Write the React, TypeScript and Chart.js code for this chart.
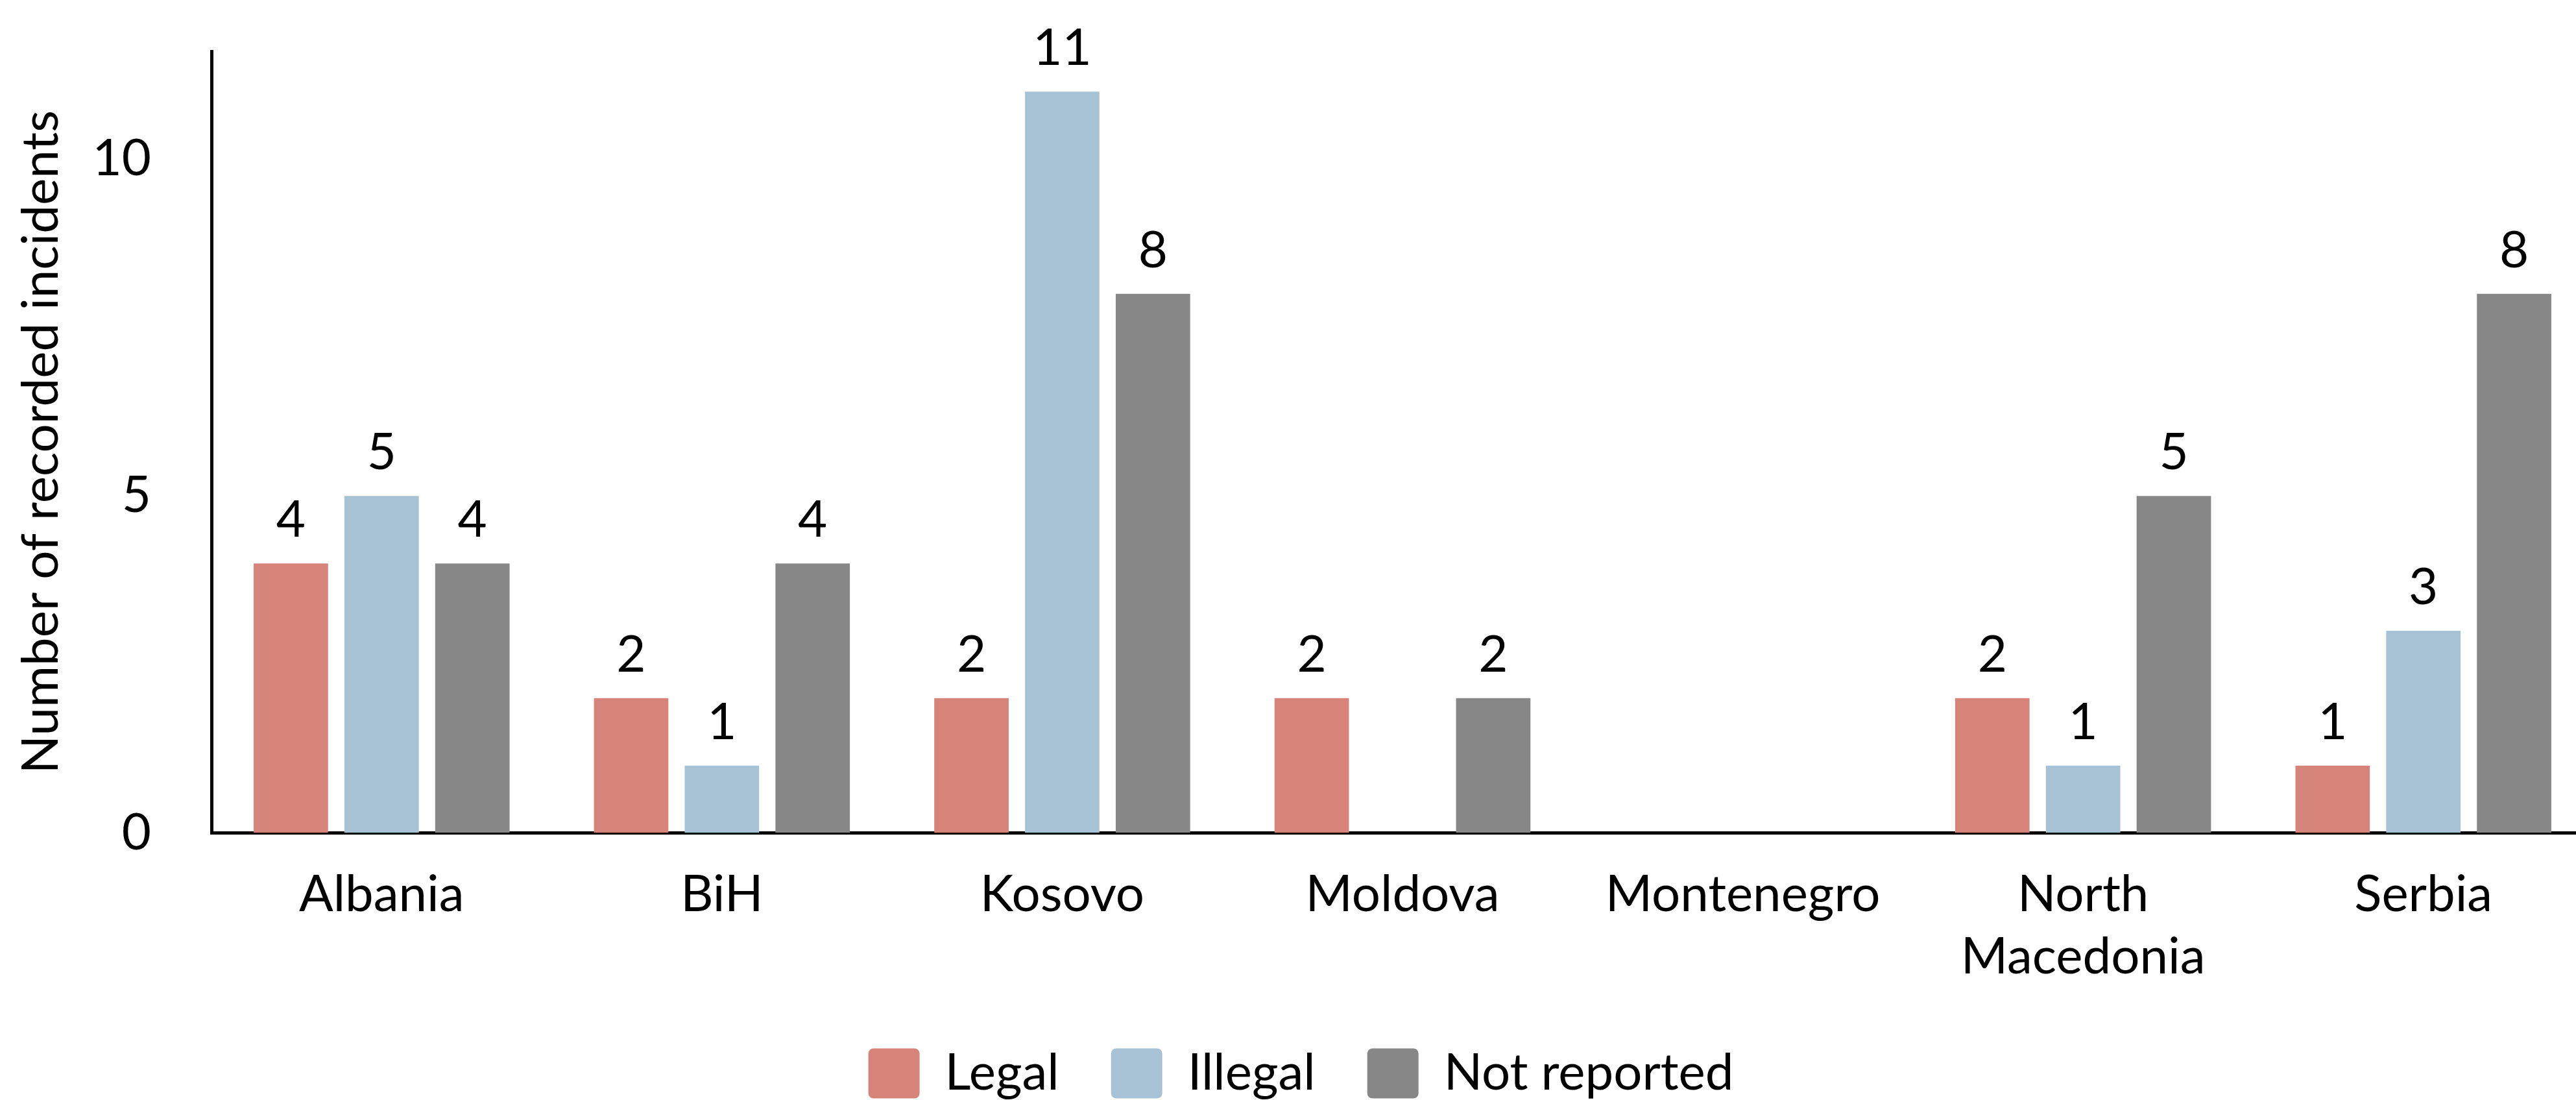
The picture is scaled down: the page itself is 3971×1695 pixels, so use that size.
import React, { useEffect, useRef } from "react";
import { Chart, registerables } from "chart.js";

Chart.register(...registerables);

const categories: (string | string[])[] = [
  "Albania",
  "BiH",
  "Kosovo",
  "Moldova",
  "Montenegro",
  ["North", "Macedonia"],
  "Serbia",
];
const legalValues = [4, 2, 2, 2, 0, 2, 1];
const illegalValues = [5, 1, 11, 0, 0, 1, 3];
const notReportedValues = [4, 4, 8, 2, 0, 5, 8];
const seriesNames = ["Legal", "Illegal", "Not reported"];
const seriesColors = ["#D6837A", "#A8C2D5", "#878787"];
const yTickValues = [0, 5, 10];
const yAxisTitle = "Number of recorded incidents";

const FONT = "Lato";
const FS = 78;

const valueLabels = {
  id: "valueLabels",
  afterDatasetsDraw(chart: any) {
    const ctx = chart.ctx;
    ctx.save();
    ctx.font = `${FS}px ${FONT}`;
    ctx.fillStyle = "#000000";
    ctx.textAlign = "center";
    ctx.textBaseline = "alphabetic";
    chart.data.datasets.forEach((ds: any, i: number) => {
      const meta = chart.getDatasetMeta(i);
      meta.data.forEach((bar: any, j: number) => {
        const v = ds.data[j];
        if (!v) return;
        ctx.fillText(String(v), bar.x, bar.y - 41);
      });
    });
    ctx.restore();
  },
};

export default function App() {
  const ref = useRef<HTMLCanvasElement>(null);
  useEffect(() => {
    if (!ref.current) return;
    const chart = new Chart(ref.current, {
      type: "bar",
      data: {
        labels: categories as any,
        datasets: [legalValues, illegalValues, notReportedValues].map((d, i) => ({
          label: seriesNames[i],
          data: d,
          backgroundColor: seriesColors[i],
          borderWidth: 0,
          categoryPercentage: 0.8,
          barPercentage: 0.82,
        })),
      },
      options: {
        responsive: false,
        animation: false,
        devicePixelRatio: 1,
        layout: { padding: { left: 13, top: 79, right: 22, bottom: 0 } },
        plugins: {
          tooltip: { enabled: false },
          legend: {
            position: "bottom",
            labels: {
              font: { family: FONT, size: FS },
              color: "#000000",
              boxWidth: 79,
              boxHeight: 77,
              padding: 80,
              useBorderRadius: true,
              borderRadius: 8,
            },
          },
        },
        scales: {
          x: {
            grid: { display: true, drawOnChartArea: false, drawTicks: false },
            border: { display: true, color: "#000000", width: 5 },
            ticks: {
              font: { family: FONT, size: FS, lineHeight: 1.23 },
              color: "#000000",
              padding: 47,
              maxRotation: 0,
              autoSkip: false,
            },
            afterFit: (scale: any) => {
              scale.height = 251.5;
            },
          },
          y: {
            min: 0,
            max: 11.6,
            grid: { display: true, drawOnChartArea: false, drawTicks: false },
            border: { display: true, color: "#000000", width: 5 },
            ticks: {
              stepSize: 5,
              font: { family: FONT, size: FS },
              color: "#000000",
              padding: 93,
            },
            afterBuildTicks: (scale: any) => {
              scale.ticks = yTickValues.map((v) => ({ value: v }));
            },
            afterFit: (scale: any) => {
              scale.width = 313;
              scale.paddingTop = 0;
              scale.paddingBottom = 0;
            },
            title: {
              display: true,
              text: yAxisTitle,
              font: { family: FONT, size: FS },
              color: "#000000",
              padding: { top: 4, bottom: 4 },
            },
          },
        },
      },
      plugins: [valueLabels],
    });
    return () => chart.destroy();
  }, []);

  return (
    <div
      style={{
        position: "fixed",
        left: 0,
        top: 0,
        width: 3971,
        height: 1695,
        overflow: "hidden",
        background: "#ffffff",
      }}
    >
      <canvas ref={ref} width={4020} height={1703} style={{ width: 4020, height: 1703, display: "block" }} />
    </div>
  );
}
